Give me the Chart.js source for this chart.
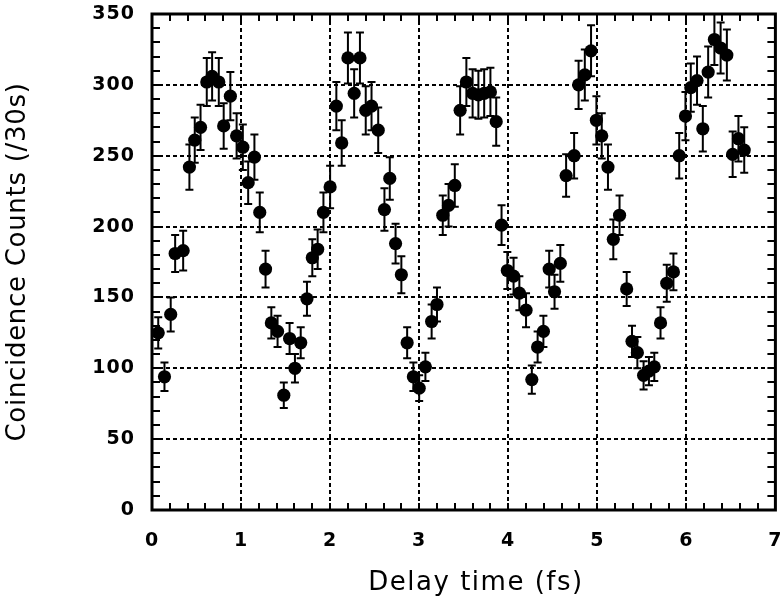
<!DOCTYPE html>
<html>
<head>
<meta charset="utf-8">
<script src="https://cdn.jsdelivr.net/npm/chart.js@4/dist/chart.umd.min.js"></script>
<style>
  html, body { margin: 0; padding: 0; background: #fff; }
  #wrap { width: 782px; height: 600px; }
</style>
</head>
<body>
<div id="wrap"><canvas id="chart" width="782" height="600"></canvas></div>
<script>
// delay time (fs)
const delays = [
  0.07, 0.14, 0.21, 0.26, 0.35, 0.42, 0.48, 0.545, 0.615, 0.675,
  0.75, 0.805, 0.88, 0.95, 1.02, 1.08, 1.15, 1.21, 1.275, 1.34,
  1.41, 1.48, 1.545, 1.605, 1.67, 1.74, 1.80, 1.86, 1.925, 2.00,
  2.07, 2.13, 2.20, 2.27, 2.335, 2.40, 2.465, 2.54, 2.61, 2.67,
  2.735, 2.80, 2.865, 2.935, 3.00, 3.07, 3.14, 3.20, 3.265, 3.33,
  3.40, 3.46, 3.53, 3.60, 3.665, 3.73, 3.80, 3.865, 3.925, 3.99,
  4.06, 4.125, 4.20, 4.265, 4.33, 4.395, 4.46, 4.52, 4.585, 4.65,
  4.74, 4.79, 4.86, 4.93, 4.99, 5.05, 5.12, 5.18, 5.25, 5.33,
  5.39, 5.45, 5.52, 5.58, 5.64, 5.71, 5.78, 5.855, 5.92, 5.99,
  6.05, 6.12, 6.185, 6.245, 6.315, 6.385, 6.455, 6.52, 6.585, 6.65
];
// coincidence counts per 30 s
const counts = [
  125, 94, 138, 181, 183, 242, 261, 270, 302, 306,
  302, 271, 292, 264, 256, 231, 249, 210, 170, 132,
  126, 81, 121, 100, 118, 149, 178, 184, 210, 228,
  285, 259, 319, 294, 319, 282, 285, 268, 212, 234,
  188, 166, 118, 94, 86, 101, 133, 145, 208, 215,
  229, 282, 302, 294, 293, 294, 295, 274, 201, 169,
  165, 153, 141, 92, 115, 126, 170, 154, 174, 236,
  250, 300, 307, 324, 275, 264, 242, 191, 208, 156,
  119, 111, 95, 98, 101, 132, 160, 168, 250, 278,
  298, 303, 269, 309, 332, 326, 321, 251, 262, 254
];
// error bar half-lengths
const errors = [
  11, 10, 12, 13, 14, 16, 16, 16, 17, 17,
  17, 16, 17, 16, 16, 15, 16, 14, 13, 11,
  11, 9, 11, 10, 11, 12, 13, 14, 14, 15,
  17, 16, 18, 17, 18, 17, 17, 16, 15, 15,
  14, 13, 11, 10, 9, 10, 12, 12, 14, 15,
  15, 17, 17, 17, 17, 17, 17, 17, 14, 13,
  13, 12, 12, 10, 11, 11, 13, 12, 13, 15,
  16, 17, 18, 18, 17, 16, 16, 14, 14, 12,
  11, 11, 10, 10, 10, 11, 13, 13, 16, 17,
  17, 17, 16, 18, 18, 18, 18, 16, 16, 16
];
const xTicks = [0, 1, 2, 3, 4, 5, 6, 7];
const yTicks = [0, 50, 100, 150, 200, 250, 300, 350];
const xTitle = 'Delay time (fs)';
const yTitle = 'Coincidence Counts (/30s)';

const points = delays.map((d, i) => ({ x: d, y: counts[i] }));

// the original lettering is set quite wide
const spacing = {
  id: 'spacing',
  beforeLayout(chart) { chart.ctx.letterSpacing = '1px'; },
  beforeDraw(chart) { chart.ctx.letterSpacing = '1px'; }
};

// error bars under the markers
const errorBars = {
  id: 'errorBars',
  beforeDatasetsDraw(chart) {
    const { ctx, scales: { x, y } } = chart;
    ctx.save();
    ctx.strokeStyle = '#000';
    ctx.lineWidth = 2;
    points.forEach((p, i) => {
      const px = x.getPixelForValue(p.x);
      const top = y.getPixelForValue(p.y + errors[i]);
      const bot = y.getPixelForValue(p.y - errors[i]);
      ctx.beginPath();
      ctx.moveTo(px, top); ctx.lineTo(px, bot);
      ctx.moveTo(px - 4, top); ctx.lineTo(px + 4, top);
      ctx.moveTo(px - 4, bot); ctx.lineTo(px + 4, bot);
      ctx.stroke();
    });
    ctx.restore();
  }
};

// frame, inward ticks on all four sides, axis titles
const frame = {
  id: 'frame',
  afterDraw(chart) {
    const { ctx, chartArea: a, scales: { x, y } } = chart;
    ctx.save();
    ctx.strokeStyle = '#000';
    ctx.lineWidth = 2;
    ctx.beginPath();
    for (let v = 0; v <= 7.001; v += 0.2) {
      const px = Math.round(x.getPixelForValue(v));
      ctx.moveTo(px, a.bottom); ctx.lineTo(px, a.bottom - 7);
      ctx.moveTo(px, a.top); ctx.lineTo(px, a.top + 7);
    }
    for (let v = 0; v <= 350; v += 10) {
      const py = Math.round(y.getPixelForValue(v));
      ctx.moveTo(a.left, py); ctx.lineTo(a.left + 8, py);
      ctx.moveTo(a.right, py); ctx.lineTo(a.right - 8, py);
    }
    ctx.stroke();
    ctx.lineWidth = 3;
    ctx.strokeRect(a.left, a.top, a.right - a.left, a.bottom - a.top);

    ctx.fillStyle = '#000';
    ctx.font = '26px "DejaVu Sans"';
    ctx.textAlign = 'center';
    ctx.textBaseline = 'alphabetic';
    ctx.letterSpacing = '1.5px';
    ctx.fillText(xTitle, 476, 590);
    ctx.letterSpacing = '0.7px';
    ctx.translate(25, 262);
    ctx.rotate(-Math.PI / 2);
    ctx.fillText(yTitle, 0, 0);
    ctx.restore();
  }
};

const tickFont = { family: 'DejaVu Sans', size: 19, weight: 'bold' };

new Chart(document.getElementById('chart'), {
  type: 'scatter',
  data: {
    datasets: [{
      data: points,
      backgroundColor: '#000',
      borderColor: '#000',
      borderWidth: 0,
      pointRadius: 6.6,
      pointHoverRadius: 6.6
    }]
  },
  options: {
    responsive: false,
    animation: false,
    layout: { padding: { top: 14, right: 5, left: 0, bottom: 0 } },
    plugins: { legend: { display: false }, tooltip: { enabled: false } },
    scales: {
      x: {
        type: 'linear', min: 0, max: 7,
        afterFit(s) { s.height = 90; s.paddingLeft = 0; s.paddingRight = 0; },
        afterBuildTicks(s) { s.ticks = xTicks.map(v => ({ value: v })); },
        grid: { color: '#000', lineWidth: 2, drawTicks: false },
        border: { display: false, dash: [4, 3] },
        ticks: { padding: 20, color: '#000', font: tickFont }
      },
      y: {
        type: 'linear', min: 0, max: 350,
        afterFit(s) { s.width = 152; s.paddingTop = 0; s.paddingBottom = 0; },
        afterBuildTicks(s) { s.ticks = yTicks.map(v => ({ value: v })); },
        grid: { color: '#000', lineWidth: 2, drawTicks: false },
        border: { display: false, dash: [4, 3] },
        ticks: { padding: 17, color: '#000', font: tickFont }
      }
    }
  },
  plugins: [spacing, errorBars, frame]
});
</script>
</body>
</html>
